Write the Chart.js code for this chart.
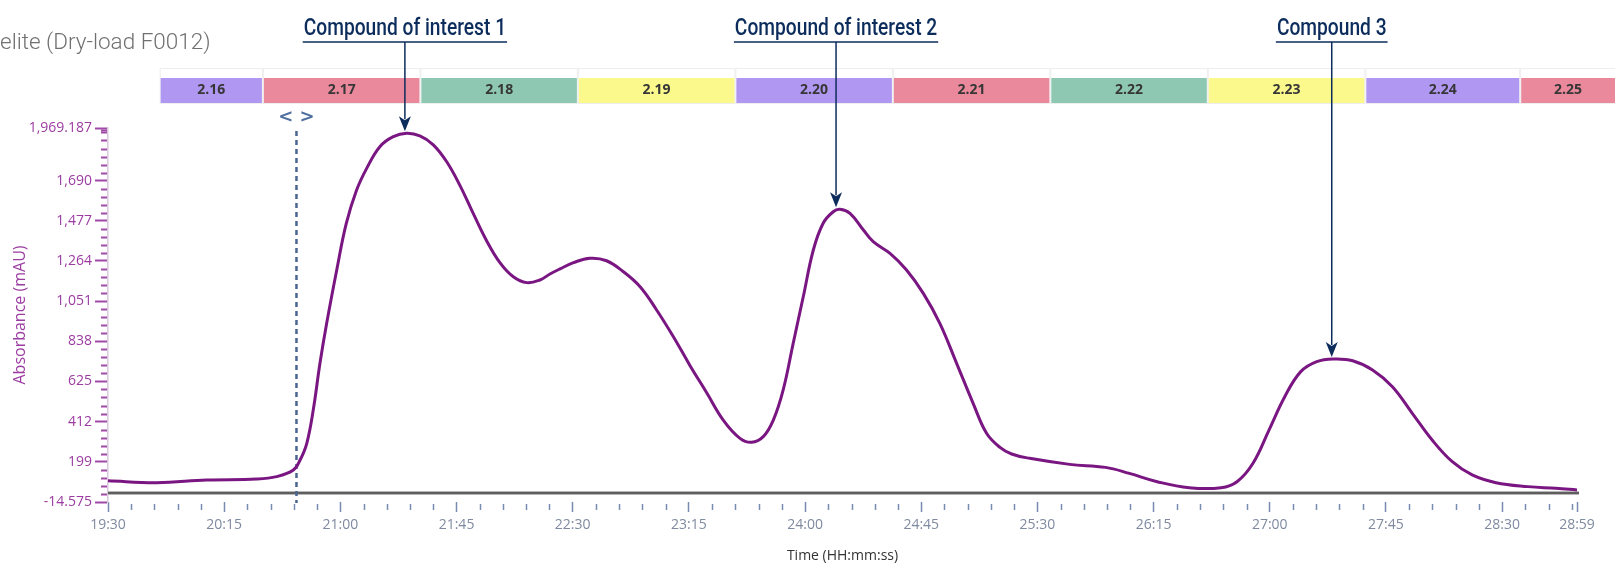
<!DOCTYPE html>
<html>
<head>
<meta charset="utf-8">
<script src="https://cdn.jsdelivr.net/npm/chart.js@4/dist/chart.umd.min.js"></script>
<style>
  html, body { margin: 0; padding: 0; background: #fff; }
  #wrap { width: 1615px; height: 566px; }
</style>
</head>
<body>
<div id="wrap"><canvas id="chromChart" width="1615" height="566"></canvas></div>
<script>
// chromatogram trace, time in seconds (19:30 = 1170 s)
const timeSec = [1170, 1188.9, 1208.2, 1227.6, 1235.3, 1241.8, 1244.4, 1247.0, 1249.5, 1252.1, 1254.7, 1258.6, 1262.3, 1266.3, 1270.2,
  1275.3, 1280.5, 1285.7, 1290.8, 1296.0, 1301.2, 1306.3, 1311.5, 1316.7, 1321.8, 1327.0, 1332.2, 1337.3, 1341.2, 1345.1,
  1350.3, 1356.7, 1363.1, 1369.6, 1376.1, 1382.5, 1389.0, 1395.4, 1401.9, 1408.3, 1414.8, 1419.3, 1423.8, 1427.7, 1431.5,
  1435.4, 1439.3, 1443.2, 1447.0, 1450.9, 1453.5, 1457.4, 1462.6, 1466.4, 1472.9, 1479.3, 1485.8, 1492.2, 1498.7, 1505.1,
  1510.3, 1515.5, 1520.0, 1527.0, 1542.5, 1556.4, 1565.6, 1576.4, 1588.8, 1601.1, 1607.3, 1613.5, 1619.7, 1625.8, 1632.0,
  1638.2, 1644.7, 1652.1, 1659.8, 1667.5, 1675.2, 1682.9, 1690.7, 1698.4, 1707.6, 1720.0, 1730.8, 1739];
const absorbance = [98, 88, 102, 107, 120, 155, 208, 297, 473, 721, 933, 1216, 1463, 1640, 1755,
  1870, 1923, 1941, 1927, 1880, 1790, 1665, 1515, 1370, 1255, 1180, 1149, 1163, 1195, 1222,
  1255, 1278, 1265, 1207, 1127, 1004, 862, 710, 565, 420, 323, 302, 332, 420, 579,
  827, 1074, 1322, 1464, 1525, 1538, 1517, 1428, 1366, 1304, 1216, 1092, 933, 721, 509,
  350, 275, 240, 217, 185, 169, 137, 93, 61, 61, 93, 191, 367, 544, 677,
  730, 744, 735, 686, 597, 456, 314, 199, 129, 88, 67, 58, 49];

const xTickSec = [1170, 1215, 1260, 1305, 1350, 1395, 1440, 1485, 1530, 1575, 1620, 1665, 1710, 1739];
const xTickLabels = ['19:30', '20:15', '21:00', '21:45', '22:30', '23:15', '24:00', '24:45', '25:30', '26:15', '27:00', '27:45', '28:30', '28:59'];
const yTickValues = [-14.575, 199, 412, 625, 838, 1051, 1264, 1477, 1690, 1969.187];
const yTickLabels = ['-14.575', '199', '412', '625', '838', '1,051', '1,264', '1,477', '1,690', '1,969.187'];

const fractionLabels = ['2.16', '2.17', '2.18', '2.19', '2.20', '2.21', '2.22', '2.23', '2.24', '2.25'];
const fractionStart = [1190, 1230, 1291, 1352, 1413, 1474, 1535, 1596, 1657, 1717];
const fractionEnd = [1230, 1291, 1352, 1413, 1474, 1535, 1596, 1657, 1717, 1760];

const compoundLabels = ['Compound of interest 1', 'Compound of interest 2', 'Compound 3'];
const compoundTime = [1285, 1452, 1644];
const compoundPeak = [1941, 1538, 744];

const injectionTime = 1243;
const baselineValue = 33;

const fracColors = ['#b097f2', '#e9899b', '#8ec8b2', '#fbf98c'];
const navy = '#0c2c5c';
const purple = '#9b3ca1';

function drawMinorTicks(chart) {
  const ctx = chart.ctx;
  const x = chart.scales.x, y = chart.scales.y;
  const area = chart.chartArea;
  ctx.save();
  // x minor ticks every 9 s
  ctx.strokeStyle = '#7a8bb0';
  ctx.lineWidth = 1.5;
  for (let s = 1170; s <= 1739; s += 9) {
    if ((s - 1170) % 45 === 0) continue;
    const px = Math.round(x.getPixelForValue(s)) + 0.5;
    ctx.beginPath();
    ctx.moveTo(px, area.bottom + 2);
    ctx.lineTo(px, area.bottom + 8);
    ctx.stroke();
  }
  // y minor ticks
  ctx.strokeStyle = '#a04aa8';
  ctx.lineWidth = 2;
  const step = 42.6;
  const ys = [];
  for (let v = 199 - step; v > -14.575 + 5; v -= step) ys.push(v);
  for (let v = 199 + step; v < 1969.187 - 5; v += step) ys.push(v);
  ys.push(1969.187 - 10);
  ys.forEach(v => {
    if (yTickValues.some(t => Math.abs(t - v) < 3)) return;
    const py = Math.round(y.getPixelForValue(v)) + 0.5;
    ctx.beginPath();
    ctx.moveTo(area.left - 7, py);
    ctx.lineTo(area.left - 1, py);
    ctx.stroke();
  });
  ctx.restore();
}

const decorPlugin = {
  id: 'decor',
  beforeDatasetsDraw(chart) {
    const ctx = chart.ctx;
    const x = chart.scales.x, y = chart.scales.y;
    const area = chart.chartArea;
    ctx.save();
    // baseline
    const by = y.getPixelForValue(baselineValue);
    ctx.strokeStyle = '#b8b8b8';
    ctx.lineWidth = 4;
    ctx.beginPath();
    ctx.moveTo(area.left, by);
    ctx.lineTo(area.right + 2, by);
    ctx.stroke();
    ctx.strokeStyle = '#5e5e5e';
    ctx.lineWidth = 2;
    ctx.beginPath();
    ctx.moveTo(area.left, by);
    ctx.lineTo(area.right + 2, by);
    ctx.stroke();
    // injection marker
    const ix = x.getPixelForValue(injectionTime);
    ctx.strokeStyle = '#4a6590';
    ctx.lineWidth = 2.5;
    ctx.setLineDash([5, 4]);
    ctx.beginPath();
    ctx.moveTo(ix, 131);
    ctx.lineTo(ix, area.bottom + 1);
    ctx.stroke();
    ctx.setLineDash([]);
    ctx.fillStyle = '#4f6f9f';
    ctx.font = 'bold 18px "DejaVu Sans"';
    ctx.textAlign = 'center';
    ctx.textBaseline = 'middle';
    ctx.fillText('< >', ix, 117);
    ctx.restore();
  },
  afterDraw(chart) {
    const ctx = chart.ctx;
    const x = chart.scales.x, y = chart.scales.y;
    drawMinorTicks(chart);
    ctx.save();
    // header text
    ctx.fillStyle = '#707070';
    ctx.font = '300 22.5px Roboto';
    ctx.textAlign = 'left';
    ctx.textBaseline = 'alphabetic';
    ctx.fillText('elite (Dry-load F0012)', 0, 49);

    // fraction strip
    fractionLabels.forEach((lab, i) => {
      const x1 = x.getPixelForValue(fractionStart[i]) + 1;
      const x2 = x.getPixelForValue(fractionEnd[i]) - 1;
      ctx.strokeStyle = '#eeeeee';
      ctx.lineWidth = 1;
      ctx.strokeRect(x1 - 0.5, 68.5, x2 - x1 + 1, 35);
      ctx.fillStyle = fracColors[i % 4];
      ctx.fillRect(x1, 78, x2 - x1, 25);
      ctx.fillStyle = '#363636';
      ctx.font = 'bold 14px "Open Sans"';
      ctx.textAlign = 'center';
      ctx.textBaseline = 'middle';
      const cx = (x1 + x2) / 2;
      ctx.fillText(lab, cx > 1560 ? 1568 : cx, 90.5);
    });

    // compound annotations
    compoundLabels.forEach((lab, i) => {
      const ax = x.getPixelForValue(compoundTime[i]);
      const tipY = y.getPixelForValue(compoundPeak[i]) - 2;
      ctx.font = '500 24px Roboto';
      const w = ctx.measureText(lab).width * 0.8;
      ctx.save();
      ctx.translate(ax, 35);
      ctx.scale(0.8, 1);
      ctx.fillStyle = navy;
      ctx.textAlign = 'center';
      ctx.textBaseline = 'alphabetic';
      ctx.fillText(lab, 0, 0);
      ctx.restore();
      ctx.strokeStyle = navy;
      ctx.lineWidth = 1.5;
      ctx.beginPath();
      ctx.moveTo(ax - w / 2 - 1, 42);
      ctx.lineTo(ax + w / 2 + 1, 42);
      ctx.stroke();
      ctx.beginPath();
      ctx.moveTo(ax, 42);
      ctx.lineTo(ax, tipY - 12);
      ctx.stroke();
      ctx.fillStyle = navy;
      ctx.beginPath();
      ctx.moveTo(ax, tipY);
      ctx.lineTo(ax - 6, tipY - 15);
      ctx.lineTo(ax, tipY - 11);
      ctx.lineTo(ax + 6, tipY - 15);
      ctx.closePath();
      ctx.fill();
    });
    ctx.restore();
  }
};

Chart.defaults.font.family = '"Open Sans", sans-serif';

new Chart(document.getElementById('chromChart'), {
  type: 'line',
  data: {
    datasets: [{
      label: 'Absorbance',
      data: timeSec.map((t, i) => ({ x: t, y: absorbance[i] })),
      borderColor: '#7a1682',
      borderWidth: 3,
      pointRadius: 0,
      tension: 0.4,
      fill: false
    }]
  },
  options: {
    responsive: false,
    animation: false,
    devicePixelRatio: 1,
    layout: { padding: { left: 0, right: 38, top: 128, bottom: 0 } },
    plugins: { legend: { display: false }, tooltip: { enabled: false } },
    scales: {
      x: {
        type: 'linear',
        min: 1170,
        max: 1739,
        afterFit: s => { s.height = 64; },
        afterBuildTicks: s => { s.ticks = xTickSec.map(v => ({ value: v })); },
        ticks: {
          autoSkip: false,
          maxRotation: 0,
          padding: 5,
          color: '#7f8aa0',
          font: { size: 14 },
          callback: (v, i) => xTickLabels[i]
        },
        grid: { drawOnChartArea: false, drawTicks: true, tickLength: 10, tickColor: '#7a8bb0', tickWidth: 1.5 },
        border: { display: false },
        title: { display: true, text: 'Time (HH:mm:ss)', color: '#333', font: { size: 14 }, padding: { top: 0, bottom: 2 } }
      },
      y: {
        type: 'linear',
        min: -14.575,
        max: 1969.187,
        afterFit: s => { s.width = 108; },
        afterBuildTicks: s => { s.ticks = yTickValues.map(v => ({ value: v })); },
        ticks: {
          autoSkip: false,
          padding: 3,
          color: purple,
          font: { size: 14 },
          callback: (v, i) => yTickLabels[i]
        },
        grid: { drawOnChartArea: false, drawTicks: true, tickLength: 13, tickColor: '#a04aa8', tickWidth: 2 },
        border: { display: true, color: '#d8c8dc', width: 1.5 },
        title: { display: true, text: 'Absorbance (mAU)', color: purple, font: { size: 16 }, padding: { top: 11, bottom: 0 } }
      }
    }
  },
  plugins: [decorPlugin]
});
</script>
</body>
</html>
